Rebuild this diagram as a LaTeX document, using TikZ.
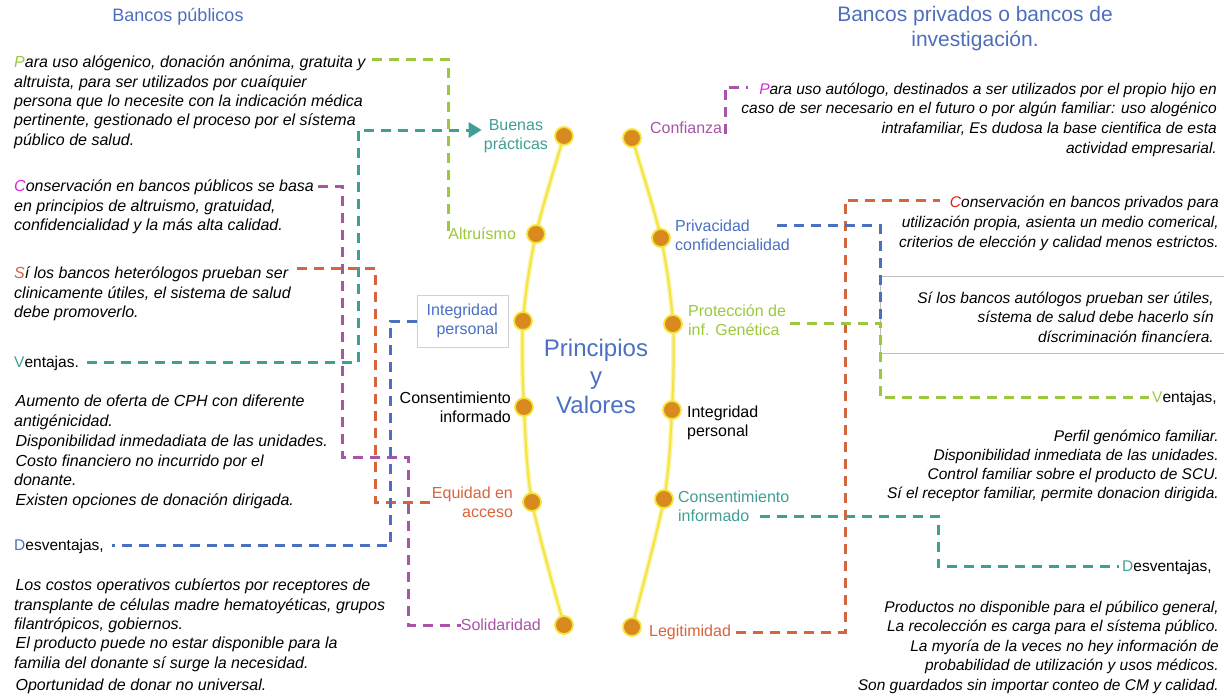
\documentclass[tikz,border=0pt]{standalone}
\usepackage{fontspec}
\setmainfont{Liberation Sans}
\usetikzlibrary{positioning,arrows.meta,shadows}
\definecolor{tealc}{RGB}{64,158,148}
\definecolor{greenc}{RGB}{155,200,60}
\definecolor{purplec}{RGB}{168,84,168}
\definecolor{magc}{RGB}{214,40,224}
\definecolor{orangec}{RGB}{214,100,60}
\definecolor{bluec}{RGB}{74,112,194}
\definecolor{redc}{RGB}{226,30,24}
\definecolor{dotc}{RGB}{217,138,30}
\definecolor{arcc}{RGB}{245,228,60}
\definecolor{titlec}{RGB}{78,110,188}
\newcommand{\bul}{\textcolor{dotc}{\raisebox{8pt}{\fontsize{5}{5}\selectfont.}}}
\tikzset{
  body/.style={inner sep=0pt, align=left, font=\fontsize{16}{19.3}\selectfont\itshape,
    execute at begin node=\strut, execute at end node=\strut},
  rbody/.style={body, align=right},
  plain/.style={inner sep=0pt, font=\fontsize{15.5}{19.3}\selectfont},
  lbl/.style={inner sep=0pt, font=\fontsize{16}{19}\selectfont},
  dot/.style={circle, fill=dotc, draw=arcc, line width=1.8pt, minimum size=18pt, inner sep=0pt},
  lnk/.style={line width=3pt, dash pattern=on 10pt off 7pt},
  arc/.style={arcc, line width=2pt},
  boxline/.style={draw=black!25, line width=0.8pt}
}
\begin{document}
\begin{tikzpicture}[x=1pt, y=-1pt]
\useasboundingbox (0,0) rectangle (1224,696);

% titles
\node[font=\fontsize{18}{20}\selectfont, text=titlec] (tpub) at (178,17) {Bancos públicos};
\node[align=center, font=\fontsize{21}{25}\selectfont, text=titlec] (tpriv) at (975,29) {Bancos privados o bancos de\\investigación.};

% principles arcs
\coordinate (pL1) at (564,136); \coordinate (pL2) at (536,234); \coordinate (pL3) at (523,321);
\coordinate (pL4) at (524,407); \coordinate (pL5) at (532,502); \coordinate (pL6) at (564,625);
\coordinate (pR1) at (632,138); \coordinate (pR2) at (661,238); \coordinate (pR3) at (673,324);
\coordinate (pR4) at (672,410); \coordinate (pR5) at (664,499); \coordinate (pR6) at (632,627);
\draw[arcc!40, line width=5pt] plot[smooth] coordinates {(pL1) (pL2) (pL3) (pL4) (pL5) (pL6)};
\draw[arcc!40, line width=5pt] plot[smooth] coordinates {(pR1) (pR2) (pR3) (pR4) (pR5) (pR6)};
\draw[arc] plot[smooth] coordinates {(pL1) (pL2) (pL3) (pL4) (pL5) (pL6)};
\draw[arc] plot[smooth] coordinates {(pR1) (pR2) (pR3) (pR4) (pR5) (pR6)};
\foreach \n in {L1,L2,L3,L4,L5,L6,R1,R2,R3,R4,R5,R6}
  \node[dot] (d\n) at (p\n) {};

\node[align=center, font=\fontsize{24}{28.5}\selectfont, text=bluec] (pyv) at (596,376) {Principios\\y\\Valores};

% left labels
\node[lbl, align=center, text=tealc, left=6pt of dL1] (buenas) {Buenas\\prácticas};
\node[lbl, text=greenc, left=10pt of dL2] (altr) {Altruísmo};
\node[lbl, align=right, text=bluec, draw=black!18, fill=white, inner xsep=10pt, inner ysep=9pt,
  drop shadow={opacity=0.12, shadow xshift=1pt, shadow yshift=-1pt}, left=5pt of dL3] (intL) {Integridad\\personal};
\node[lbl, align=right, left=3pt of dL4] (cinL) {Consentimiento\\informado};
\node[lbl, align=right, text=orangec, left=9pt of dL5] (equid) {Equidad en\\acceso};
\node[lbl, text=purplec, left=13pt of dL6] (solid) {Solidaridad};

% right labels
\node[lbl, text=purplec, anchor=west] (conf) at ([xshift=8pt, yshift=10pt]dR1.east) {Confianza};
\node[lbl, align=left, text=bluec, right=4pt of dR2, yshift=3pt] (priv) {Privacidad\\confidencialidad};
\node[lbl, align=left, text=greenc, right=5pt of dR3, yshift=4pt] (prot) {Protección de\\inf. Genética};
\node[lbl, align=left, right=5pt of dR4, yshift=-13pt] (intR) {Integridad\\personal};
\node[lbl, align=left, text=tealc, right=4pt of dR5, yshift=-7pt] (cinR) {Consentimiento\\informado};
\node[lbl, text=orangec, right=7pt of dR6, yshift=-5pt] (legit) {Legitimidad};

% left texts
\node[body, anchor=north west] (pubA) at (14,56) {\textcolor{greenc}{P}ara uso alógenico, donación anónima, gratuita y\\altruista, para ser utilizados por cuaíquier\\persona que lo necesite con la indicación médica\\pertinente, gestionado el proceso por el sístema\\público de salud.};
\node[body, anchor=north west] (pubB) at (14,180) {\textcolor{magc}{C}onservación en bancos públicos se basa\\en principios de altruismo, gratuidad,\\confidencialidad y la más alta calidad.};
\node[body, anchor=north west] (pubC) at (14,267) {\textcolor{orangec}{S}í los bancos heterólogos prueban ser\\clinicamente útiles, el sistema de salud\\debe promoverlo.};
\node[plain, anchor=base west] (ventL) at (14,367) {\textcolor{tealc}{V}entajas.};
\node[body, anchor=north west, font=\fontsize{16}{19.8}\selectfont\itshape] (pubV) at (14,395) {\bul Aumento de oferta de CPH con diferente\\antigénicidad.\\\bul Disponibilidad inmedadiata de las unidades.\\\bul Costo financiero no incurrido por el\\donante.\\\bul Existen opciones de donación dirigada.};
\node[plain, anchor=base west] (desvL) at (14,550) {\textcolor{bluec}{D}esventajas,};
\node[body, anchor=north west] (pubD) at (14,579) {\bul Los costos operativos cubíertos por receptores de\\transplante de células madre hematoyéticas, grupos\\filantrópicos, gobiernos.\\\bul El producto puede no estar disponible para la\\familia del donante sí surge la necesidad.\\[3pt]\bul Oportunidad de donar no universal.};

% right texts
\node[rbody, anchor=north east, font=\fontsize{15.5}{19.7}\selectfont\itshape] (privA) at (1217,82.6) {\textcolor{magc}{P}ara uso autólogo, destinados a ser utilizados por el propio hijo en\\caso de ser necesario en el futuro o por algún familiar: uso alogénico\\intrafamiliar, Es dudosa la base cientifica de esta\\actividad empresarial.};
\node[rbody, anchor=north east, font=\fontsize{15.5}{20}\selectfont\itshape] (privB) at (1219,195.6) {\textcolor{redc}{C}onservación en bancos privados para\\utilización propia, asienta un medio comerical,\\criterios de elección y calidad menos estrictos.};
\draw[boxline] (1224,276) -| (880,353) -- (1224,353);
\node[rbody, anchor=north east, font=\fontsize{15.5}{19.5}\selectfont\itshape] (privC) at (1214,291.6) {Sí los bancos autólogos prueban ser útiles,\\sístema de salud debe hacerlo sín\\díscriminación financíera.};
\node[plain, anchor=base east] (ventR) at (1217,402) {\textcolor{greenc}{V}entajas,};
\node[rbody, anchor=north east, font=\fontsize{15.5}{19}\selectfont\itshape] (privV) at (1219,429.6) {\bul Perfil genómico familiar.\\\bul Disponibilidad inmediata de las unidades.\\\bul Control familiar sobre el producto de SCU.\\\bul Sí el receptor familiar, permite donacion dirigida.};
\node[plain, anchor=base east] (desvR) at (1212,571) {\textcolor{tealc}{D}esventajas,};
\node[rbody, anchor=north east, font=\fontsize{15.5}{19.5}\selectfont\itshape] (privD) at (1219,600.6) {\bul Productos no disponible para el púbilico general,\\\bul La recolección es carga para el sístema público.\\\bul La myoría de la veces no hey información de\\probabilidad de utilización y usos médicos.\\\bul Son guardados sin importar conteo de CM y calidad.};

% left connectors
\coordinate (gL) at (448,59);
\coordinate (tL) at (358,130);
\coordinate (pL) at (342,457);
\coordinate (pL2b) at (408,457);
\coordinate (oL) at (375,268);
\coordinate (bL) at (390,321);
\draw[lnk, greenc] ([xshift=6pt, yshift=-3pt]pubA.north east) -- (gL) |- (altr.west);
\draw[lnk, tealc, -{Triangle[length=13pt, width=15pt]}] ([xshift=8pt]ventL.east) -| (tL) -- ([xshift=-2pt]tL -| buenas.west);
\draw[lnk, purplec] ([xshift=4pt, yshift=-6pt]pubB.north east) -| (pL) -- (pL2b) |- (solid.west);
\draw[lnk, orangec] ([xshift=6pt, yshift=-1pt]pubC.north east) -- (oL) |- (equid.west);
\draw[lnk, bluec] (intL.west) -- (bL) |- ([xshift=8pt]desvL.east);

% right connectors
\coordinate (pR) at (748,87);
\coordinate (oR) at (845,200);
\coordinate (oRe) at (940,200);
\coordinate (gR) at (880,323);
\coordinate (tR) at (938,516);
\draw[lnk, purplec] ([xshift=3pt]conf.south east) |- (pR);
\draw[lnk, orangec] ([xshift=5pt]legit.east) -| (oR) -- (oRe);
\draw[lnk, bluec] ([xshift=102pt, yshift=-6pt]priv.north west) -| (gR);
\draw[lnk, greenc] ([xshift=4pt]prot.east |- gR) -- (gR) |- ([xshift=-3pt]ventR.west);
\draw[lnk, tealc] ([xshift=82pt]cinR.south west |- tR) -- (tR) |- ([xshift=-3pt]desvR.west);
\end{tikzpicture}
\end{document}
